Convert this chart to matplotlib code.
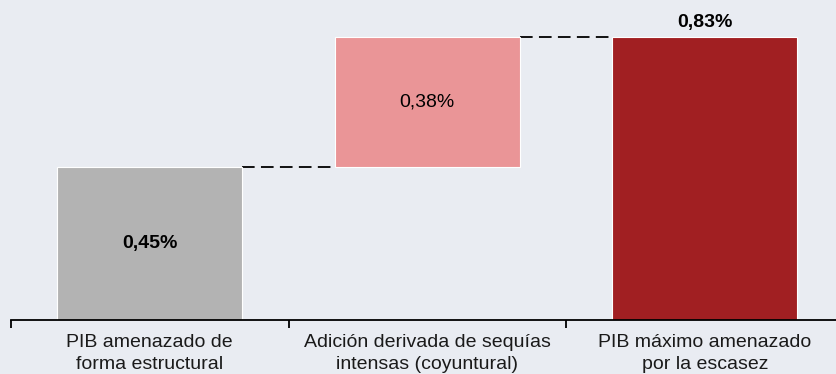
import matplotlib.pyplot as plt

# ---------- Data ----------
categories = ["PIB amenazado de\nforma estructural",
              "Adición derivada de sequías\nintensas (coyuntural)",
              "PIB máximo amenazado\npor la escasez"]
values = [0.45, 0.38, 0.83]
value_labels = ["0,45%", "0,38%", "0,83%"]

bg = "#e9ecf2"
colors = ["#b3b3b3", "#ea9597", "#a11f22"]

plt.rcParams['font.family'] = ['Liberation Sans', 'DejaVu Sans']

fig = plt.figure(figsize=(8.36, 3.74), dpi=100, facecolor=bg)
ax = fig.add_axes([11 / 836, 54 / 374, 825 / 836, 320 / 374])
ax.set_facecolor(bg)

# waterfall: first bar from 0, addition stacked on top, total from 0
bottoms = [0, values[0], 0]
x = [0, 1, 2]
width = 0.667
ax.bar(x, values, width=width, bottom=bottoms, color=colors,
       edgecolor="white", linewidth=0.8, zorder=2)

# dashed connectors between bars
tops = [b + v for b, v in zip(bottoms, values)]
for i in range(len(x) - 1):
    ax.plot([x[i] + width / 2, x[i + 1] - width / 2], [tops[i], tops[i]],
            color="black", linestyle=(0, (7, 3.5)), linewidth=1.3, zorder=1)

# value labels
ax.text(x[0], values[0] / 2, value_labels[0], ha="center", va="center",
        fontsize=14, fontweight="bold", color="black")
ax.text(x[1], bottoms[1] + values[1] / 2, value_labels[1], ha="center", va="center",
        fontsize=14, color="black")
ax.text(x[2], tops[2] + 0.018, value_labels[2], ha="center", va="bottom",
        fontsize=14, fontweight="bold", color="black")

# axis runs past the last category, one boundary tick per category start
ax.set_xlim(-0.5, -0.5 + 825 / 277.5)
ax.set_ylim(0, 320 / 341)

for s in ["top", "right", "left"]:
    ax.spines[s].set_visible(False)
ax.spines["bottom"].set_linewidth(1.3)
ax.set_yticks([])

ax.set_xticks([-0.5, 0.5, 1.5])
ax.set_xticklabels([])
ax.tick_params(axis="x", length=6, width=1.3, direction="out")
for xi, lab in zip(x, categories):
    ax.text(xi, -0.04, lab, ha="center", va="top", fontsize=14,
            linespacing=1.45, color="#1a1a1a")

fig.savefig("out.png", dpi=100, facecolor=bg)
